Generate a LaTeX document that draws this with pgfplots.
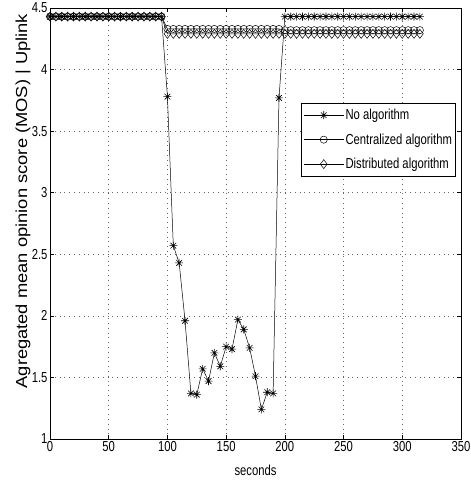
\documentclass[border=0pt]{standalone}
\usepackage{fontspec}
\setmainfont{Liberation Sans}[FakeStretch=0.78]
\newfontfamily\ylabfont{Liberation Sans}[FakeStretch=1.15]
\usepackage{pgfplots}
\pgfplotsset{compat=1.18}
\usepackage{pgfplotstable}

\pgfdeclareplotmark{mstar}{%
  \pgfpathmoveto{\pgfqpoint{-\pgfplotmarksize}{0pt}}\pgfpathlineto{\pgfqpoint{\pgfplotmarksize}{0pt}}%
  \pgfpathmoveto{\pgfqpoint{0pt}{-\pgfplotmarksize}}\pgfpathlineto{\pgfqpoint{0pt}{\pgfplotmarksize}}%
  \pgfpathmoveto{\pgfqpoint{-0.707\pgfplotmarksize}{-0.707\pgfplotmarksize}}\pgfpathlineto{\pgfqpoint{0.707\pgfplotmarksize}{0.707\pgfplotmarksize}}%
  \pgfpathmoveto{\pgfqpoint{-0.707\pgfplotmarksize}{0.707\pgfplotmarksize}}\pgfpathlineto{\pgfqpoint{0.707\pgfplotmarksize}{-0.707\pgfplotmarksize}}%
  \pgfusepathqstroke}

\pgfplotstableread{
x y
0 4.43
5 4.43
10 4.43
15 4.43
20 4.43
25 4.43
30 4.43
35 4.43
40 4.43
45 4.43
50 4.43
55 4.43
60 4.43
65 4.43
70 4.43
75 4.43
80 4.43
85 4.43
90 4.43
95 4.43
100 3.78
105 2.57
110 2.43
115 1.96
120 1.37
125 1.36
130 1.57
135 1.47
140 1.70
145 1.59
150 1.75
155 1.73
160 1.97
165 1.89
170 1.74
175 1.51
180 1.24
185 1.38
190 1.37
195 3.77
200 4.43
205 4.43
210 4.43
215 4.43
220 4.43
225 4.43
230 4.43
235 4.43
240 4.43
245 4.43
250 4.43
255 4.43
260 4.43
265 4.43
270 4.43
275 4.43
280 4.43
285 4.43
290 4.43
295 4.43
300 4.43
305 4.43
310 4.43
315 4.43
}\noalg

\pgfplotstableread{
x y
0 4.43
5 4.43
10 4.43
15 4.43
20 4.43
25 4.43
30 4.43
35 4.43
40 4.43
45 4.43
50 4.43
55 4.43
60 4.43
65 4.43
70 4.43
75 4.43
80 4.43
85 4.43
90 4.43
95 4.43
100 4.33
105 4.33
110 4.33
115 4.33
120 4.33
125 4.33
130 4.33
135 4.33
140 4.33
145 4.33
150 4.33
155 4.33
160 4.33
165 4.33
170 4.33
175 4.33
180 4.33
185 4.33
190 4.33
195 4.33
200 4.32
205 4.32
210 4.32
215 4.32
220 4.32
225 4.32
230 4.32
235 4.32
240 4.32
245 4.32
250 4.32
255 4.32
260 4.32
265 4.32
270 4.32
275 4.32
280 4.32
285 4.32
290 4.32
295 4.32
300 4.32
305 4.32
310 4.32
315 4.32
}\central

\pgfplotstableread{
x y
0 4.43
5 4.43
10 4.43
15 4.43
20 4.43
25 4.43
30 4.43
35 4.43
40 4.43
45 4.43
50 4.43
55 4.43
60 4.43
65 4.43
70 4.43
75 4.43
80 4.43
85 4.43
90 4.43
95 4.43
100 4.29
105 4.29
110 4.29
115 4.29
120 4.29
125 4.29
130 4.29
135 4.29
140 4.29
145 4.29
150 4.29
155 4.29
160 4.29
165 4.29
170 4.29
175 4.29
180 4.29
185 4.29
190 4.29
195 4.29
200 4.29
205 4.29
210 4.29
215 4.29
220 4.29
225 4.29
230 4.29
235 4.29
240 4.29
245 4.29
250 4.29
255 4.29
260 4.29
265 4.29
270 4.29
275 4.29
280 4.29
285 4.29
290 4.29
295 4.29
300 4.29
305 4.29
310 4.29
315 4.29
}\distrib

\begin{document}
\begin{tikzpicture}
\begin{axis}[
  name=ax,
  scale only axis,
  width=411bp, height=431bp,
  xmin=0, xmax=350, ymin=1, ymax=4.5,
  xtick={0,50,...,350},
  ytick={1,1.5,2,2.5,3,3.5,4,4.5},
  tick align=inside,
  major tick length=4bp,
  grid=major,
  grid style={black!60, line width=0.5bp, dash pattern=on 0.8bp off 4bp},
  axis line style={line width=0.9bp},
  every tick/.style={black, line width=0.6bp},
  /pgf/number format/assume math mode=true,
  ticklabel style={font=\fontsize{14.5}{16}\selectfont},
  xticklabel style={yshift=1bp},
  yticklabel style={xshift=1bp},
  xlabel={seconds},
  xlabel style={font=\fontsize{14.5}{16}\selectfont, at={(axis description cs:0.5,-0.072)}, anchor=center},
  ylabel={Agregated mean opinion score (MOS) | Uplink},
  ylabel style={font=\ylabfont\fontsize{16}{18}\selectfont, at={(axis description cs:-0.0657,0.552)}, anchor=center},
  legend cell align=left,
  legend style={at={(axis description cs:0.611,0.780)}, anchor=north west,
    font=\fontsize{14.5}{16}\selectfont, draw=black, line width=0.8bp,
    inner xsep=2bp, inner ysep=4.5bp, row sep=9.5bp,
    nodes={inner sep=1.5bp}},
  legend image code/.code={%
    \draw[mark repeat=2,mark phase=2] plot coordinates {(0bp,0bp) (20bp,0bp) (40bp,0bp)};},
]
\addplot[black, line width=0.5bp, mark=mstar, mark size=4bp, mark options={line width=0.6bp}] table[x=x,y=y] {\noalg};
\addlegendentry{No algorithm}
\addplot[black, line width=0.5bp, mark=o, mark size=3.6bp, mark options={line width=0.5bp}] table[x=x,y=y] {\central};
\addlegendentry{Centralized algorithm}
\addplot[black, line width=0.5bp, mark=diamond, mark size=4.5bp, mark options={line width=0.5bp}] table[x=x,y=y] {\distrib};
\addlegendentry{Distributed algorithm}
\end{axis}
\pgfresetboundingbox
\path[use as bounding box] ([shift={(-50bp,-43bp)}]ax.south west) rectangle ([shift={(10bp,8bp)}]ax.north east);
\end{tikzpicture}
\end{document}
